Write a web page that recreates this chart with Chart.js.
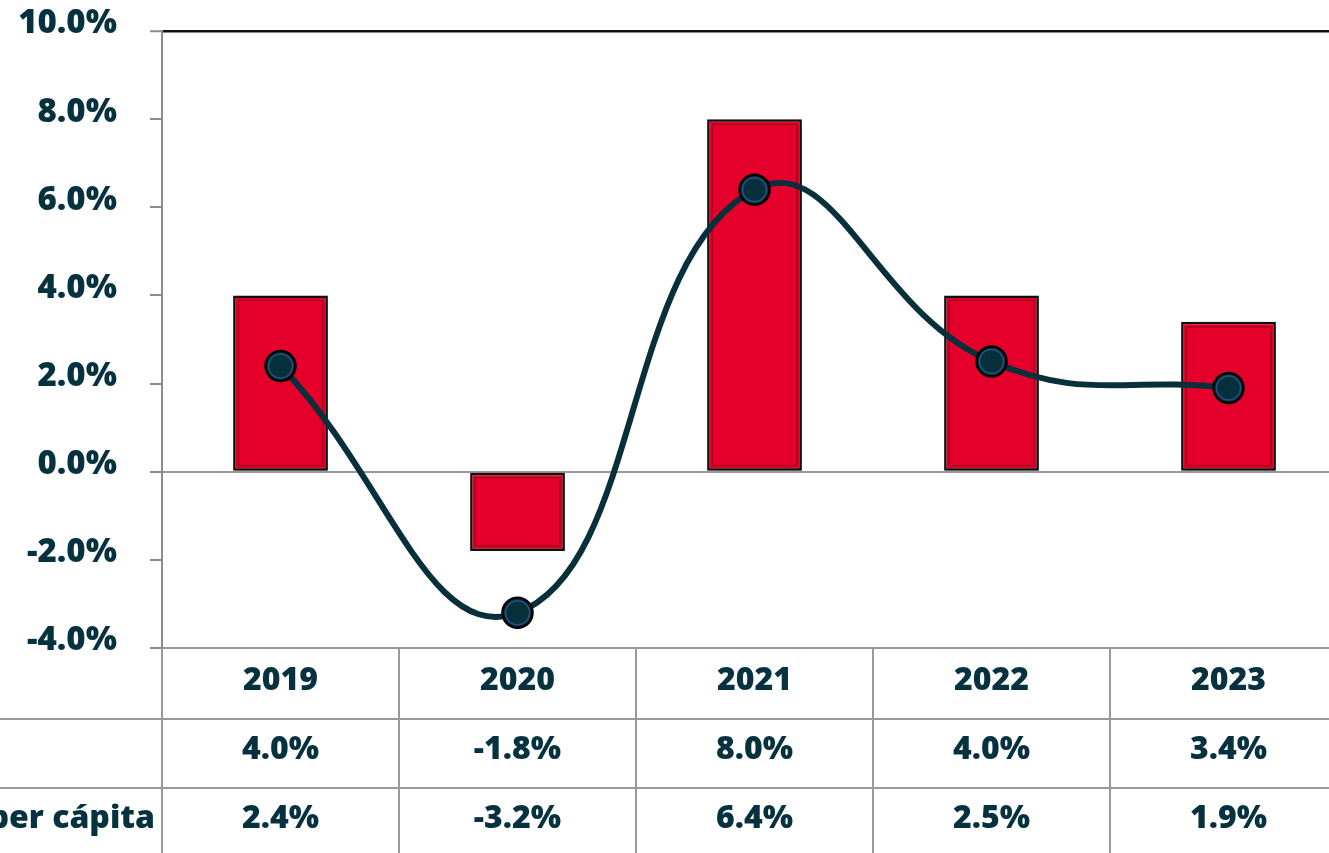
<!DOCTYPE html>
<html>
<head>
<meta charset="utf-8">
<script src="https://cdn.jsdelivr.net/npm/chart.js@4"></script>
<style>
  html, body { margin: 0; padding: 0; background: #fff; overflow: hidden; }
  #wrap { position: relative; width: 1365px; height: 853px; }
</style>
</head>
<body>
<div id="wrap"><canvas id="pibChart" width="1365" height="853"></canvas></div>
<script>
// Datos
const anios = ['2019', '2020', '2021', '2022', '2023'];
const pib = [4.0, -1.8, 8.0, 4.0, 3.4];
const pibPerCapita = [2.4, -3.2, 6.4, 2.5, 1.9];
const filas = ['PIB', 'PIB per cápita'];
const yMin = -4, yMax = 10, yPaso = 2;

const colorTexto = '#06323f';
const fuente = '"Open Sans", "Noto Sans", sans-serif';
const pct = v => v.toFixed(1) + '%';

// Sombra suave bajo las barras
const sombraBarras = {
    id: 'sombraBarras',
    beforeDatasetDraw(chart, args) {
        if (args.index !== 0) return;
        const ctx = chart.ctx;
        ctx.save();
        ctx.shadowColor = 'rgba(0,0,0,0.35)';
        ctx.shadowBlur = 6;
        ctx.shadowOffsetX = 2;
        ctx.shadowOffsetY = 3;
    },
    afterDatasetDraw(chart, args) {
        const ctx = chart.ctx;
        if (args.index === 0) {
            ctx.restore();
            // filo interior oscuro de cada barra
            ctx.save();
            ctx.strokeStyle = '#a8001c';
            ctx.lineWidth = 1.5;
            args.meta.data.forEach(bar => {
                const p = bar.getProps(['x', 'y', 'base', 'width']);
                const l = p.x - p.width / 2 + 5, r = p.x + p.width / 2 - 5;
                const t = Math.min(p.y, p.base) + 5, b = Math.max(p.y, p.base) - 5;
                ctx.strokeRect(l, t, r - l, b - t);
            });
            ctx.restore();
        } else if (args.index === 1) {
            // brillo en los marcadores
            ctx.save();
            ctx.strokeStyle = '#2b4f85';
            ctx.lineWidth = 1.5;
            args.meta.data.forEach(pt => {
                ctx.beginPath();
                ctx.arc(pt.x, pt.y, 12, 0, Math.PI * 2);
                ctx.stroke();
            });
            ctx.restore();
        }
    }
};

// Tabla de datos bajo el gráfico
const tablaDatos = {
    id: 'tablaDatos',
    afterDraw(chart) {
        const { ctx, chartArea, scales: { x } } = chart;
        const ancho = chart.width;
        const top = chartArea.bottom;
        const col = (chartArea.right - chartArea.left) / anios.length;
        const lineasY = [top + 71, top + 140];

        ctx.save();
        ctx.strokeStyle = '#999';
        ctx.lineWidth = 2;
        lineasY.forEach(y => {
            ctx.beginPath();
            ctx.moveTo(0, y);
            ctx.lineTo(ancho, y);
            ctx.stroke();
        });
        for (let k = 0; k <= anios.length; k++) {
            const xx = chartArea.left + k * col;
            ctx.beginPath();
            ctx.moveTo(xx, top);
            ctx.lineTo(xx, chart.height);
            ctx.stroke();
        }

        ctx.fillStyle = colorTexto;
        ctx.font = '800 32px ' + fuente;
        ctx.textBaseline = 'alphabetic';
        ctx.textAlign = 'center';
        const filasTexto = [anios, pib.map(pct), pibPerCapita.map(pct)];
        filasTexto.forEach((fila, i) => {
            fila.forEach((t, j) => {
                ctx.fillText(t, x.getPixelForValue(j), top + 42 + i * 69);
            });
        });

        // rótulos de fila, alineados a la izquierda
        ctx.textAlign = 'left';
        const x0 = 155 - ctx.measureText(filas[1]).width;
        filas.forEach((t, i) => {
            ctx.fillText(t, x0, top + 42 + (i + 1) * 69);
        });
        ctx.restore();
    }
};

new Chart(document.getElementById('pibChart'), {
    type: 'bar',
    data: {
        labels: anios,
        datasets: [{
            label: filas[0],
            data: pib,
            backgroundColor: '#e4002b',
            borderColor: '#111',
            borderWidth: 2.5,
            borderSkipped: false,
            barPercentage: 0.4,
            categoryPercentage: 1.0,
            order: 1
        }, {
            type: 'line',
            label: filas[1],
            data: pibPerCapita,
            borderColor: '#07303b',
            borderWidth: 6,
            tension: 0.45,
            pointRadius: 15,
            pointBorderWidth: 2.5,
            pointBorderColor: '#000',
            pointBackgroundColor: '#06303b',
            order: 0
        }]
    },
    options: {
        responsive: false,
        animation: false,
        layout: { padding: { left: 0, top: 31, right: 18, bottom: 205 } },
        plugins: { legend: { display: false }, tooltip: { enabled: false } },
        scales: {
            x: { display: false },
            y: {
                min: yMin,
                max: yMax,
                afterFit(scale) {
                    scale.width = 162;
                    scale.paddingTop = 0;
                    scale.paddingBottom = 0;
                },
                ticks: {
                    stepSize: yPaso,
                    padding: 33,
                    labelOffset: -7,
                    color: colorTexto,
                    font: { family: fuente, size: 33, weight: '800' },
                    callback: v => pct(v)
                },
                border: { color: '#8c8c8c', width: 2 },
                grid: {
                    tickLength: 12,
                    tickColor: '#8c8c8c',
                    tickWidth: 2,
                    color: c => c.tick.value === 10 ? '#111' : (c.tick.value === 0 || c.tick.value === -4 ? '#999' : 'rgba(0,0,0,0)'),
                    lineWidth: c => c.tick.value === 10 ? 2.5 : 2
                }
            }
        }
    },
    plugins: [sombraBarras, tablaDatos]
});
</script>
</body>
</html>
